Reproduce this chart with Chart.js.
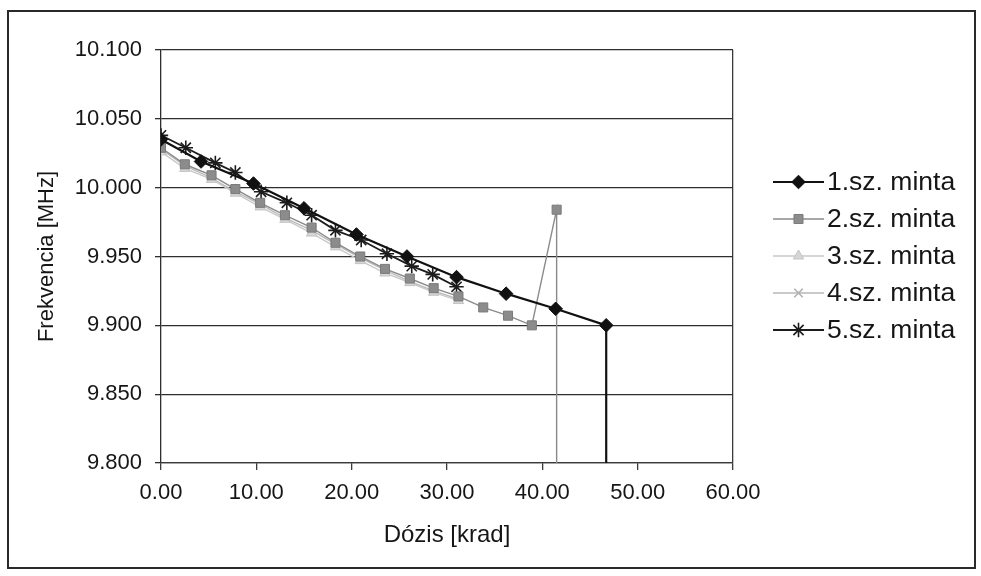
<!DOCTYPE html>
<html>
<head>
<meta charset="utf-8">
<script src="https://cdn.jsdelivr.net/npm/chart.js@4/dist/chart.umd.min.js"></script>
<style>
  html, body { margin: 0; padding: 0; background: #ffffff; }
  #wrap { width: 981px; height: 576px; }
</style>
</head>
<body>
<div id="wrap"><canvas id="c" width="981" height="576"></canvas></div>
<script>
// Dose [krad] and oscillator frequency [MHz] for each sample
const sampleNames = ['1.sz. minta', '2.sz. minta', '3.sz. minta', '4.sz. minta', '5.sz. minta'];

const dose1 = [0, 4.2, 9.7, 15.0, 20.5, 25.8, 31.0, 36.2, 41.4, 46.7, 46.7];
const freq1 = [10.035, 10.019, 10.003, 9.985, 9.966, 9.950, 9.935, 9.923, 9.912, 9.900, 0];

const dose2 = [0, 2.5, 5.3, 7.8, 10.4, 13.0, 15.8, 18.3, 20.9, 23.5, 26.1, 28.6, 31.2, 33.8, 36.4, 38.9, 41.5, 41.5];
const freq2 = [10.029, 10.017, 10.009, 9.999, 9.989, 9.980, 9.971, 9.960, 9.950, 9.941, 9.934, 9.927, 9.921, 9.913, 9.907, 9.900, 9.984, 0];

const dose3 = [0, 2.5, 5.3, 7.8, 10.4, 13.0, 15.8, 18.3, 20.9, 23.5, 26.1, 28.6, 31.2];
const freq3 = [10.026, 10.014, 10.006, 9.996, 9.986, 9.977, 9.967, 9.957, 9.947, 9.938, 9.931, 9.924, 9.918];

const dose4 = [0, 2.5, 5.3, 7.8, 10.4, 13.0, 15.8, 18.3, 20.9, 23.5, 26.1, 28.6, 31.2];
const freq4 = [10.028, 10.016, 10.007, 9.997, 9.988, 9.978, 9.969, 9.959, 9.949, 9.940, 9.932, 9.925, 9.919];

const dose5 = [0, 2.6, 5.7, 7.8, 10.5, 13.2, 15.8, 18.3, 21.0, 23.7, 26.3, 28.5, 31.0];
const freq5 = [10.038, 10.029, 10.018, 10.011, 9.997, 9.989, 9.980, 9.969, 9.962, 9.952, 9.943, 9.937, 9.928];

const xTicks = [0, 10, 20, 30, 40, 50, 60];
const yTicks = [9.80, 9.85, 9.90, 9.95, 10.00, 10.05, 10.10];

const FONT = "'Liberation Sans', Arial, sans-serif";
const INK = '#161616';

function pairs(xs, ys) {
  return xs.map((x, i) => ({ x: x, y: ys[i] }));
}

const styles = [
  { line: '#111111', fill: '#111111', edge: '#111111', width: 2.2, point: 'rectRot', r: 6.8 },
  { line: '#8a8a8a', fill: '#8c8c8c', edge: '#7a7a7a', width: 1.4, point: 'rect', r: 6.4 },
  { line: '#c9c9c9', fill: '#d6d6d6', edge: '#c4c4c4', width: 1.4, point: 'triangle', r: 6 },
  { line: '#b8b8b8', fill: '#b8b8b8', edge: '#b0b0b0', width: 1.3, point: 'crossRot', r: 6 },
  { line: '#1c1c1c', fill: '#1c1c1c', edge: '#1c1c1c', width: 1.8, point: 'star', r: 7.2 }
];

const series = [
  pairs(dose1, freq1),
  pairs(dose2, freq2),
  pairs(dose3, freq3),
  pairs(dose4, freq4),
  pairs(dose5, freq5)
];

const datasets = series.map((d, i) => ({
  label: sampleNames[i],
  data: d,
  borderColor: styles[i].line,
  borderWidth: styles[i].width,
  pointStyle: styles[i].point,
  pointRadius: styles[i].r,
  pointBackgroundColor: styles[i].fill,
  pointBorderColor: styles[i].edge,
  pointBorderWidth: styles[i].point === 'star' || styles[i].point === 'crossRot' ? 1.6 : 1,
  tension: 0,
  fill: false
}));

// Marker drawing for the legend keys
function drawMarker(ctx, st, x, y) {
  ctx.save();
  ctx.fillStyle = st.fill;
  ctx.strokeStyle = st.edge;
  ctx.lineWidth = (st.point === 'star' || st.point === 'crossRot') ? 1.6 : 1;
  if (Chart.helpers && Chart.helpers.drawPoint) {
    Chart.helpers.drawPoint(ctx, { pointStyle: st.point, radius: st.r, rotation: 0, borderWidth: ctx.lineWidth }, x, y);
  }
  ctx.restore();
}

const sideLegend = {
  id: 'sideLegend',
  afterDraw(chart) {
    const ctx = chart.ctx;
    const x0 = 773, x1 = 824, tx = 827, y0 = 182, gap = 37;
    ctx.save();
    ctx.font = '26.5px ' + FONT;
    ctx.textBaseline = 'middle';
    ctx.textAlign = 'left';
    sampleNames.forEach((name, i) => {
      const st = styles[i];
      const y = y0 + i * gap;
      ctx.strokeStyle = st.line;
      ctx.lineWidth = st.width;
      ctx.beginPath();
      ctx.moveTo(x0, y);
      ctx.lineTo(x1, y);
      ctx.stroke();
      drawMarker(ctx, st, (x0 + x1) / 2, y);
      ctx.fillStyle = INK;
      ctx.fillText(name, tx, y + 1);
    });
    ctx.restore();
  }
};

const frame = {
  id: 'frame',
  beforeDraw(chart) {
    const ctx = chart.ctx;
    ctx.save();
    ctx.fillStyle = '#ffffff';
    ctx.fillRect(0, 0, chart.width, chart.height);
    ctx.restore();
  },
  afterDraw(chart) {
    const ctx = chart.ctx;
    ctx.save();
    ctx.strokeStyle = '#2a2a2a';
    ctx.lineWidth = 2;
    ctx.strokeRect(8, 11, 967, 557);
    ctx.restore();
  }
};

new Chart(document.getElementById('c'), {
  type: 'line',
  data: { datasets: datasets },
  plugins: [frame, sideLegend],
  options: {
    responsive: false,
    animation: false,
    events: [],
    layout: { padding: { left: 0, top: 50, right: 248, bottom: 0 } },
    plugins: {
      legend: { display: false },
      tooltip: { enabled: false }
    },
    scales: {
      x: {
        type: 'linear',
        min: 0,
        max: 60,
        afterFit(scale) { scale.height = 113; },
        afterBuildTicks(scale) { scale.ticks = xTicks.map(v => ({ value: v })); },
        ticks: {
          padding: 10,
          color: INK,
          font: { family: FONT, size: 22 },
          maxRotation: 0,
          callback: v => Number(v).toFixed(2)
        },
        grid: {
          drawOnChartArea: true,
          drawTicks: true,
          tickLength: 7,
          color: c => (c.tick && c.tick.value === 60 ? '#3a3a3a' : 'rgba(0,0,0,0)'),
          tickColor: '#3a3a3a',
          lineWidth: 1.3
        },
        border: { display: true, color: '#3a3a3a', width: 1.3 },
        title: {
          display: true,
          text: 'Dózis [krad]',
          color: INK,
          font: { family: FONT, size: 24 },
          padding: { top: 0, bottom: 26 }
        }
      },
      y: {
        type: 'linear',
        min: 9.8,
        max: 10.1,
        afterFit(scale) { scale.width = 161; },
        afterBuildTicks(scale) { scale.ticks = yTicks.map(v => ({ value: v })); },
        ticks: {
          padding: 13,
          color: INK,
          font: { family: FONT, size: 22 },
          callback: v => Number(v).toFixed(3)
        },
        grid: {
          drawOnChartArea: true,
          drawTicks: true,
          tickLength: 6,
          color: '#2e2e2e',
          tickColor: '#2e2e2e',
          lineWidth: 1.3
        },
        border: { display: true, color: '#2e2e2e', width: 1.3 },
        title: {
          display: true,
          text: 'Frekvencia [MHz]',
          color: INK,
          font: { family: FONT, size: 22 },
          padding: { top: 34, bottom: 0 }
        }
      }
    }
  }
});
</script>
</body>
</html>
